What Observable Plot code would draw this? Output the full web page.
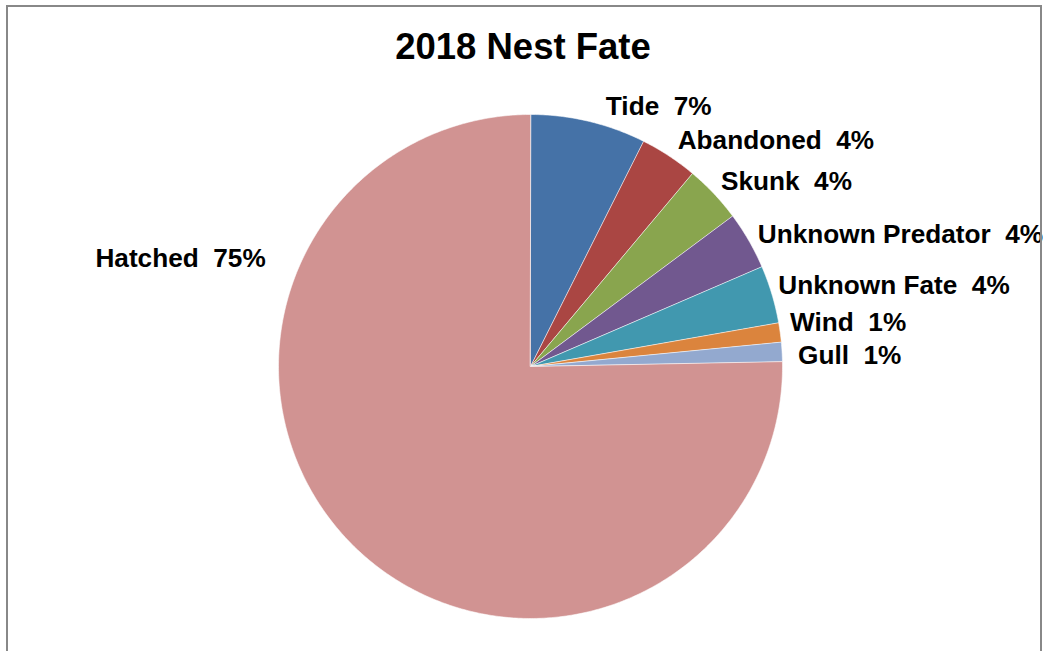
<!DOCTYPE html>
<html>
<head>
<meta charset="utf-8">
<script src="https://cdn.jsdelivr.net/npm/d3@7"></script>
<script src="https://cdn.jsdelivr.net/npm/@observablehq/plot@0.6"></script>
<style>
  html, body { margin: 0; padding: 0; background: #fff; }
  #wrap { position: relative; width: 1045px; height: 651px; overflow: hidden; }
  #border { position: absolute; left: 6px; top: 5px; width: 1032px; height: 700px;
            border: 2px solid #888; border-bottom: none; pointer-events: none; }
  svg text { white-space: pre; }
</style>
</head>
<body>
<div id="wrap"><div id="chart"></div><div id="border"></div></div>
<script>
// ---- data ----
const title = "2018 Nest Fate";
const categories = ["Tide", "Abandoned", "Skunk", "Unknown Predator", "Unknown Fate", "Wind", "Gull", "Hatched"];
const nests = [6, 3, 3, 3, 3, 1, 1, 61];
const pctLabels = ["7%", "4%", "4%", "4%", "4%", "1%", "1%", "75%"];

// ---- styles / layout ----
const palette = ["#4572A7", "#AA4643", "#89A54E", "#71588F", "#4198AF", "#DB843D", "#93A9CF", "#D19392"];
const R = 252;              // pie radius (px units of x/y scales)
const labelGap = 14;
const labelFont = 26.2;
const labelNudge = {        // small layout offsets [dx, dy]
  "Tide": [14, -1], "Abandoned": [1, -4], "Skunk": [-3, -2], "Unknown Predator": [-3, 1],
  "Unknown Fate": [-7, -5], "Wind": [-4, -8], "Gull": [2, 5]
};
const hatchedLabel = {angle: 292.2, radius: 286};

const rows = categories.map((c, i) => ({name: c, value: nests[i], pct: pctLabels[i]}));
const pie = d3.pie().value(d => d.value).sort(null)(rows);

// polygon points per slice (angle clockwise from north)
const pts = [];
for (const a of pie) {
  const n = Math.max(2, Math.ceil((a.endAngle - a.startAngle) / 0.01));
  pts.push({name: a.data.name, x: 0, y: 0});
  for (let k = 0; k <= n; k++) {
    const t = a.startAngle + (a.endAngle - a.startAngle) * k / n;
    pts.push({name: a.data.name, x: R * Math.sin(t), y: R * Math.cos(t)});
  }
}

const labels = pie.map(a => {
  const name = a.data.name;
  let ang = (a.startAngle + a.endAngle) / 2, r = R + labelGap, dx = 0, dy = 0;
  if (name === "Hatched") { ang = hatchedLabel.angle * Math.PI / 180; r = hatchedLabel.radius; }
  else if (labelNudge[name]) { [dx, dy] = labelNudge[name]; }
  const x = r * Math.sin(ang) + dx, y = r * Math.cos(ang) - dy;
  return {x, y, text: name + "\u00a0\u00a0" + a.data.pct, anchor: Math.sin(ang) >= 0 ? "start" : "end"};
});

const chart = Plot.plot({
  width: 1045, height: 651, margin: 0,
  x: {domain: [-530, 515], axis: null},
  y: {domain: [-285, 366], axis: null},
  color: {domain: categories, range: palette},
  style: {fontFamily: "Arial, 'Liberation Sans', sans-serif", background: "white"},
  marks: [
    Plot.line(pts, {x: "x", y: "y", z: "name", fill: "name", curve: "linear-closed",
                    stroke: "white", strokeWidth: 0.8, strokeOpacity: 0.7}),
    Plot.text(labels.filter(d => d.anchor === "start"), {x: "x", y: "y", text: "text", textAnchor: "start",
                    lineAnchor: "middle", fontSize: labelFont, fontWeight: "bold", fill: "black"}),
    Plot.text(labels.filter(d => d.anchor === "end"), {x: "x", y: "y", text: "text", textAnchor: "end",
                    lineAnchor: "middle", fontSize: labelFont, fontWeight: "bold", fill: "black"}),
    Plot.text([title], {frameAnchor: "top", lineAnchor: "top", dy: 33, text: d => d,
                    fontSize: 36.5, fontWeight: "bold", fill: "black"})
  ]
});
document.getElementById("chart").appendChild(chart);
</script>
</body>
</html>
